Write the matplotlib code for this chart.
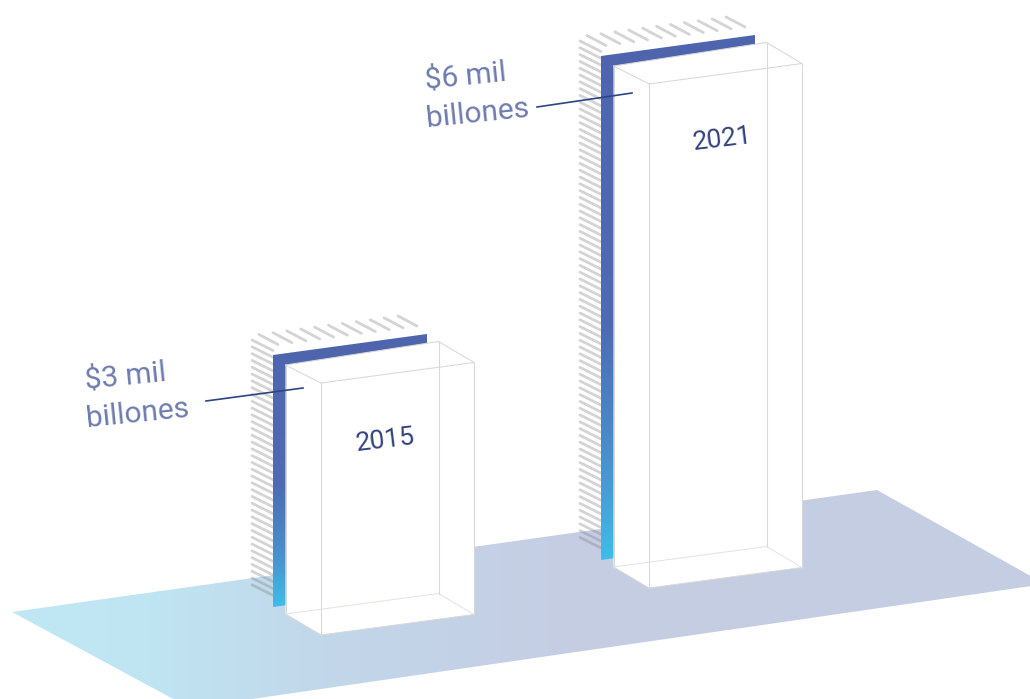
import numpy as np
import matplotlib
matplotlib.use('Agg')
import matplotlib.pyplot as plt
from matplotlib.colors import LinearSegmentedColormap
from matplotlib.patches import Polygon

years = ['2015', '2021']
values = [3, 6]
value_labels = ['$3 mil\nbillones', '$6 mil\nbillones']

# pixels of height per unit of value
scale = 84.0

# front-left bottom corner of each box
bases = [(321, 635), (649, 588)]
year_pos = [(357, 451), (694, 150)]
label_pos = [(86, 389), (426, 89)]
leaders = [((206, 401), (303, 388)), ((537, 107), (632, 93))]

width_vec = np.array([153.0, -20.5])
depth_vec = np.array([-35.5, -21.0])

plt.rcParams['font.family'] = ['Roboto', 'DejaVu Sans']

fig = plt.figure(figsize=(10.3, 6.99), dpi=100)
ax = fig.add_axes([0, 0, 1, 1])
ax.set_xlim(0, 1030)
ax.set_ylim(699, 0)
ax.axis('off')


def gradient_poly(points, colors, horizontal, zorder):
    pts = np.array(points, dtype=float)
    x0, x1 = pts[:, 0].min(), pts[:, 0].max()
    y0, y1 = pts[:, 1].min(), pts[:, 1].max()
    cmap = LinearSegmentedColormap.from_list('g', colors)
    ramp = np.linspace(0, 1, 256)
    ramp = ramp[None, :] if horizontal else ramp[:, None]
    im = ax.imshow(ramp, cmap=cmap, extent=(x0, x1, y1, y0), origin='upper',
                   aspect='auto', zorder=zorder, interpolation='bilinear')
    clip = Polygon(pts, closed=True, transform=ax.transData, fc='none', ec='none')
    ax.add_patch(clip)
    im.set_clip_path(clip)


# floor
floor = [(12, 612), (877, 490), (1045, 584), (190, 708)]
gradient_poly(floor, [(0.0, '#bfe8f4'), (0.13, '#bfe5f2'), (0.3, '#c2d7ea'),
                      (0.52, '#c5cee4'), (1.0, '#c6cde3')], True, 1)

panel_colors = [(0.0, '#4f65ad'), (0.55, '#4e6bb1'), (0.8, '#4a8fc9'), (1.0, '#3cbee8')]

for value, (bx, by) in zip(values, bases):
    h = value * scale
    corner = np.array([bx - 48.0, by - 28.0 - h])

    # hatching behind the wall
    for dy in np.arange(-15, h - 21, 6.8):
        p = corner + np.array([-21, dy])
        ax.plot([p[0], p[0] + 21], [p[1], p[1] + 10.5], color='#7c7d7f', alpha=0.33,
                lw=2.0, solid_capstyle='round', zorder=2)
    for k in range(11):
        p = corner + np.array([-14 + 13.9 * k, -20.5 - 1.85 * k])
        ax.plot([p[0], p[0] + 19], [p[1], p[1] + 10], color='#7c7d7f', alpha=0.33,
                lw=2.0, solid_capstyle='round', zorder=2)

    # wall
    wall = [corner, corner + (154, -21), corner + (154, h - 21), corner + (0, h)]
    gradient_poly(wall, panel_colors, False, 3)

    # glass box, the rear left top corner sits a little low
    fl = np.array([bx, by], dtype=float)
    fr = fl + width_vec
    bl = fl + depth_vec
    br = bl + width_vec
    up = np.array([0, -h])
    blt = bl + up + (0, 3)
    outline = [blt, br + up, fr + up, fr, fl, bl]
    ax.add_patch(Polygon(outline, closed=True, fc='white', ec='none', zorder=4))
    edge = dict(color='#d8d8d8', lw=0.75, zorder=5)
    for a, b in [(fl, fr), (fr, fr + up), (fr + up, fl + up), (fl + up, fl),
                 (bl, blt), (blt, br + up), (br + up, br),
                 (bl, fl), (fr + up, br + up), (blt, fl + up)]:
        ax.plot([a[0], b[0]], [a[1], b[1]], **edge)
    for a, b in [(bl, br), (br, fr)]:
        ax.plot([a[0], b[0]], [a[1], b[1]], color='#e2e2de', lw=0.7, zorder=5)

for year, pos in zip(years, year_pos):
    ax.text(pos[0], pos[1], year, fontsize=19, color='#34437f',
            rotation=7, rotation_mode='anchor', ha='left', va='baseline', zorder=6)

for label, pos in zip(value_labels, label_pos):
    lines = label.split('\n')
    ax.text(pos[0], pos[1], lines[0], fontsize=21.5, color='#6e7cae',
            rotation=5.8, rotation_mode='anchor', ha='left', va='baseline', zorder=6)
    ax.text(pos[0] + 1, pos[1] + 38, lines[1], fontsize=21.5, color='#6e7cae',
            rotation=5.8, rotation_mode='anchor', ha='left', va='baseline', zorder=6)

for a, b in leaders:
    ax.plot([a[0], b[0]], [a[1], b[1]], color='#2d4488', lw=1.2, zorder=6)

fig.savefig('out.png', dpi=100)
